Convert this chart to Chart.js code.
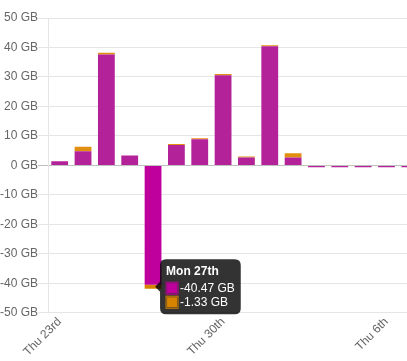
<!DOCTYPE html>
<html>
<head>
<meta charset="utf-8">
<script src="https://cdn.jsdelivr.net/npm/chart.js@4"></script>
<style>
  html, body { margin: 0; padding: 0; overflow: hidden; background: #fff; }
  #wrap { position: relative; width: 422px; height: 361px; }
</style>
</head>
<body>
<div id="wrap"><canvas id="chart"></canvas></div>
<script>
const days = ["Thu 23rd", "Fri 24th", "Sat 25th", "Sun 26th", "Mon 27th", "Tue 28th", "Wed 29th", "Thu 30th",
  "Fri 31st", "Sat 1st", "Sun 2nd", "Mon 3rd", "Tue 4th", "Wed 5th", "Thu 6th", "Fri 7th"];
const seriesA = [1.4, 4.8, 37.6, 3.4, -40.47, 6.9, 8.9, 30.6, 2.7, 40.4, 2.7, -0.6, -0.6, -0.6, -0.6, -0.6];
const seriesB = [0, 1.5, 0.6, 0, -1.33, 0.35, 0.35, 0.4, 0.35, 0.35, 1.4, 0, 0, 0, 0, 0];
const yTicks = [-50, -40, -30, -20, -10, 0, 10, 20, 30, 40, 50];

Chart.defaults.font.family = "'Liberation Sans', Arial, sans-serif";
Chart.defaults.font.size = 12;
Chart.defaults.color = "#666";

const chart = new Chart(document.getElementById("chart"), {
  type: "bar",
  data: {
    labels: days,
    datasets: [
      { data: seriesA, backgroundColor: "#b32299" },
      { data: seriesB, backgroundColor: "#e0900e" }
    ]
  },
  options: {
    responsive: true,
    maintainAspectRatio: false,
    animation: false,
    layout: { padding: { top: 18, left: 0, right: 0, bottom: 0 } },
    plugins: {
      legend: { display: false },
      tooltip: {
        mode: "index",
        intersect: false,
        backgroundColor: "rgba(0,0,0,0.8)",
        cornerRadius: 6,
        titleFont: { weight: "bold", size: 12, lineHeight: 1 },
        bodyFont: { size: 12, lineHeight: 1 },
        titleMarginBottom: 5,
        multiKeyBackground: "rgba(0,0,0,0)",
        callbacks: {
          label: ctx => ctx.parsed.y.toFixed(2) + " GB",
          labelColor: ctx => {
            const c = ctx.element.options.backgroundColor;
            return { borderColor: c, backgroundColor: c };
          }
        }
      }
    },
    scales: {
      x: {
        stacked: true,
        grid: { display: false, drawTicks: false },
        border: { display: false },
        ticks: {
          autoSkip: false,
          maxRotation: 45,
          minRotation: 45,
          padding: 2,
          callback: (v, i) => (i % 7 === 0 ? days[i] : "")
        }
      },
      y: {
        stacked: true,
        min: yTicks[0],
        max: yTicks[yTicks.length - 1],
        ticks: {
          stepSize: 10,
          padding: 0,
          callback: v => v + " GB"
        },
        grid: {
          tickLength: 10,
          color: ctx => (ctx.tick && ctx.tick.value === 0 ? "rgba(0,0,0,0.25)" : "rgba(0,0,0,0.1)")
        },
        border: { color: "rgba(0,0,0,0.1)" }
      }
    }
  }
});

const active = [{ datasetIndex: 0, index: 4 }, { datasetIndex: 1, index: 4 }];
const bar = chart.getDatasetMeta(0).data[4];
chart.setActiveElements(active);
chart.tooltip.setActiveElements(active, { x: bar.x, y: bar.y });
chart.update("none");
</script>
</body>
</html>
